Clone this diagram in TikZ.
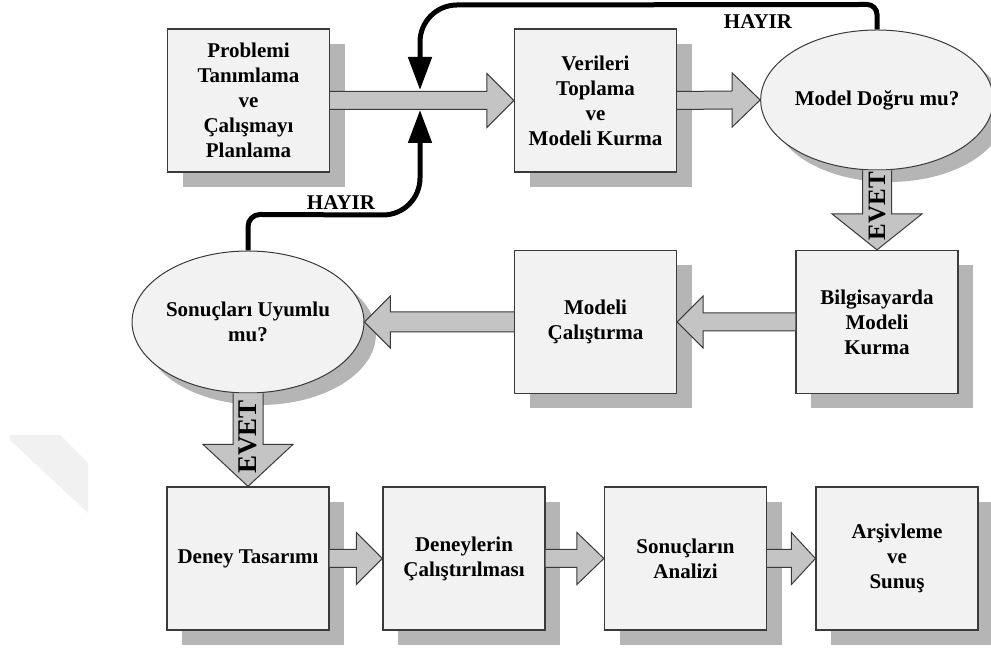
\documentclass[tikz,border=0pt]{standalone}
\usepackage{fontspec}
\setmainfont{Liberation Serif}
\usetikzlibrary{shapes.geometric,shadows,calc,arrows.meta}

\definecolor{boxfill}{HTML}{F2F2F2}
\definecolor{edgegray}{HTML}{3A3A3A}
\definecolor{shadowgray}{HTML}{B5B5B5}
\definecolor{arrowgray}{HTML}{C4C4C4}
\definecolor{markgray}{HTML}{F1F1F1}

\tikzset{
  boxtext/.style={font=\fontsize{21}{25}\selectfont\bfseries},
  stepbox/.style={draw=edgegray, line width=1.2pt, fill=boxfill,
    minimum width=162pt, minimum height=143pt, inner sep=0pt,
    align=center, boxtext,
    general shadow={fill=shadowgray, shadow xshift=15pt, shadow yshift=-15pt}},
  decide/.style={ellipse, draw=edgegray, line width=1pt, fill=boxfill,
    inner sep=0pt, align=center, boxtext,
    general shadow={fill=shadowgray, shadow xshift=12pt, shadow yshift=-12pt}},
  blk/.style={draw=edgegray, fill=arrowgray, line width=1pt, line join=miter},
  hayir/.style={line width=5pt, -{Triangle[width=23pt,length=33pt]}},
  lbl/.style={font=\fontsize{21}{25}\selectfont\bfseries, inner sep=0pt},
  evet/.style={font=\fontsize{#1}{#1}\selectfont\bfseries, rotate=90, inner sep=0pt}
}

% block arrows: #3 shaft half height, #4 head half height, #5 head length
\newcommand\blkright[5]{%
  \draw[blk] ($(#1.east)+(0,#3)$) -- ($(#2.west)+(-#5,#3)$) -- ($(#2.west)+(-#5,#4)$)
    -- (#2.west) -- ($(#2.west)+(-#5,-#4)$) -- ($(#2.west)+(-#5,-#3)$) -- ($(#1.east)+(0,-#3)$);}
\newcommand\blkleft[5]{%
  \draw[blk] ($(#1.west)+(0,#3)$) -- ($(#2.east)+(#5,#3)$) -- ($(#2.east)+(#5,#4)$)
    -- (#2.east) -- ($(#2.east)+(#5,-#4)$) -- ($(#2.east)+(#5,-#3)$) -- ($(#1.west)+(0,-#3)$);}
\newcommand\blkdown[5]{%
  \draw[blk] ($(#1.south)+(-#3,0)$) -- ($(#2.north)+(-#3,#5)$) -- ($(#2.north)+(-#4,#5)$)
    -- (#2.north) -- ($(#2.north)+(#4,#5)$) -- ($(#2.north)+(#3,#5)$) -- ($(#1.south)+(#3,0)$);}

\begin{document}
\begin{tikzpicture}[x=1pt,y=1pt]
  \fill[white] (0,0) rectangle (991,650);
  \useasboundingbox (0,0) rectangle (991,650);

  % faint mark at the left edge
  \fill[markgray] (10,215) -- (60,215) -- (88,187) -- (88,137) -- (10,210) -- cycle;

  % first row
  \node[stepbox] (plan) at (248.5,549.5) {Problemi\\Tanımlama\\ve\\Çalışmayı\\Planlama};
  \node[stepbox] (veri) at (595.5,549.5) {Verileri\\Toplama\\ve\\Modeli Kurma};
  \node[decide, minimum width=217pt, minimum height=140pt] (dogru) at (877,550) {Model Doğru mu?};

  % second row
  \node[stepbox] (bilg) at (877,328) {Bilgisayarda\\Modeli\\Kurma};
  \node[stepbox] (calis) at (595.5,328) {Modeli\\Çalıştırma};
  \node[decide, minimum width=224pt, minimum height=142pt] (uyum) at (248,328) {Sonuçları Uyumlu\\mu?};

  % third row
  \node[stepbox] (tasar) at (248,91.5) {Deney Tasarımı};
  \node[stepbox] (deney) at (464,91.5) {Deneylerin\\Çalıştırılması};
  \node[stepbox] (analiz) at (685.5,91.5) {Sonuçların\\Analizi};
  \node[stepbox] (arsiv) at (897,91.5) {Arşivleme\\ve\\Sunuş};

  % block arrows
  \blkright{plan}{veri}{9}{27}{27}
  \blkright{veri}{dogru}{9}{27}{28}
  \blkdown{dogru}{bilg}{14.5}{45}{36}
  \blkleft{bilg}{calis}{9}{26}{26}
  \blkleft{calis}{uyum}{10}{26}{26}
  \blkdown{uyum}{tasar}{15}{45}{42}
  \blkright{tasar}{deney}{9}{26}{26}
  \blkright{deney}{analiz}{9}{26}{27}
  \blkright{analiz}{arsiv}{9}{26}{24}

  \node[evet=25] (evet1) at (877,444) {EVET};
  \node[evet=27] (evet2) at (248,213) {EVET};

  % feedback lines
  \coordinate (hubtop) at (420,560);
  \coordinate (hubbot) at (420,540);
  \draw[hayir] (dogru.north) -- ++(0,15) arc[start angle=0,end angle=90,radius=10pt]
    -- (457,645) arc[start angle=90,end angle=180,radius=37pt] -- (hubtop);
  \draw[hayir] (uyum.north) -- ++(0,24) arc[start angle=180,end angle=90,radius=12pt]
    -- (383,435) arc[start angle=270,end angle=360,radius=37pt] -- (hubbot);

  \node[lbl] (hayir1) at (758,628) {HAYIR};
  \node[lbl] (hayir2) at (341,447) {HAYIR};
\end{tikzpicture}
\end{document}
